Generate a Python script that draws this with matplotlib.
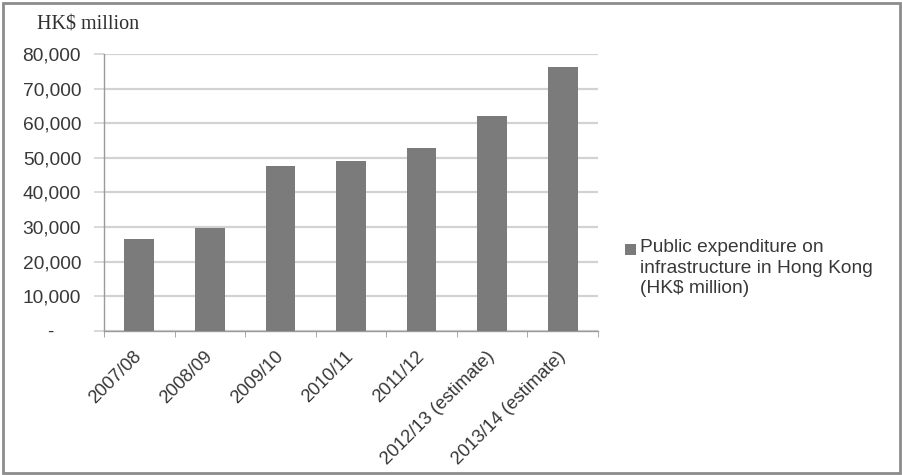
import matplotlib.pyplot as plt
from matplotlib.patches import Rectangle
from matplotlib.ticker import FuncFormatter, MultipleLocator, FixedLocator

# ===== データ =====
years = ['2007/08', '2008/09', '2009/10', '2010/11', '2011/12',
         '2012/13 (estimate)', '2013/14 (estimate)']
expenditure = [26500, 29600, 47700, 49000, 52700, 62100, 76100]
series_label = 'Public expenditure on\ninfrastructure in Hong Kong\n(HK$ million)'
unit_label = 'HK$ million'

bar_color = '#7b7b7b'
grid_color = '#d2d2d2'
axis_color = '#9a9a9a'
text_color = '#383838'

# ===== プロット =====
fig = plt.figure(figsize=(9.03, 4.75), dpi=100)
fig.patch.set_facecolor('white')
ax = fig.add_axes([0.1152, 0.3038, 0.547, 0.5825])

x = range(len(years))
ax.bar(x, expenditure, width=0.42, color=bar_color, zorder=3)

ax.set_xlim(-0.5, len(years) - 0.5)
ax.set_ylim(0, 80000)
ax.yaxis.set_major_locator(MultipleLocator(10000))
ax.yaxis.set_major_formatter(FuncFormatter(
    lambda v, p: '-     ' if v == 0 else f'{int(v):,}'))
ax.grid(axis='y', color=grid_color, linewidth=1.6, zorder=0)

# x軸: カテゴリ境界に目盛り
ax.set_xticks(list(x))
ax.set_xticklabels(years, rotation=45, ha='right', va='center',
                   rotation_mode='anchor', fontsize=13.2,
                   family='Liberation Sans', color=text_color)
ax.xaxis.set_minor_locator(FixedLocator([i - 0.5 for i in range(len(years) + 1)]))
ax.tick_params(axis='x', which='major', length=0, pad=17)
ax.tick_params(axis='x', which='minor', length=4, color=axis_color)
ax.tick_params(axis='y', length=7, color=grid_color, width=1.2, pad=9.5,
               labelsize=13.8, labelcolor=text_color)
for lab in ax.get_yticklabels():
    lab.set_family('Liberation Sans')

for side in ('top', 'right'):
    ax.spines[side].set_visible(False)
for side in ('left', 'bottom'):
    ax.spines[side].set_color(axis_color)
    ax.spines[side].set_linewidth(1.0)

# 単位ラベル
fig.text(0.041, 0.947, unit_label, family='Liberation Serif', fontsize=14.5,
         color='#303030', ha='left', va='center')

# 凡例（四角マーカー＋3行テキスト）
fig.patches.append(Rectangle((625 / 903, 1 - 255 / 475), 11 / 903, 11 / 475,
                             transform=fig.transFigure, facecolor=bar_color,
                             edgecolor='none'))
fig.text(640 / 903, 1 - 239 / 475, series_label, family='Liberation Sans',
         fontsize=13.8, color=text_color, ha='left', va='top',
         linespacing=1.28)

# 外枠
fig.patches.append(Rectangle((0.003, 0.004), 0.994, 0.99, transform=fig.transFigure,
                             fill=False, edgecolor='#8c8c8c', linewidth=2))

plt.savefig('out.png', dpi=100)
